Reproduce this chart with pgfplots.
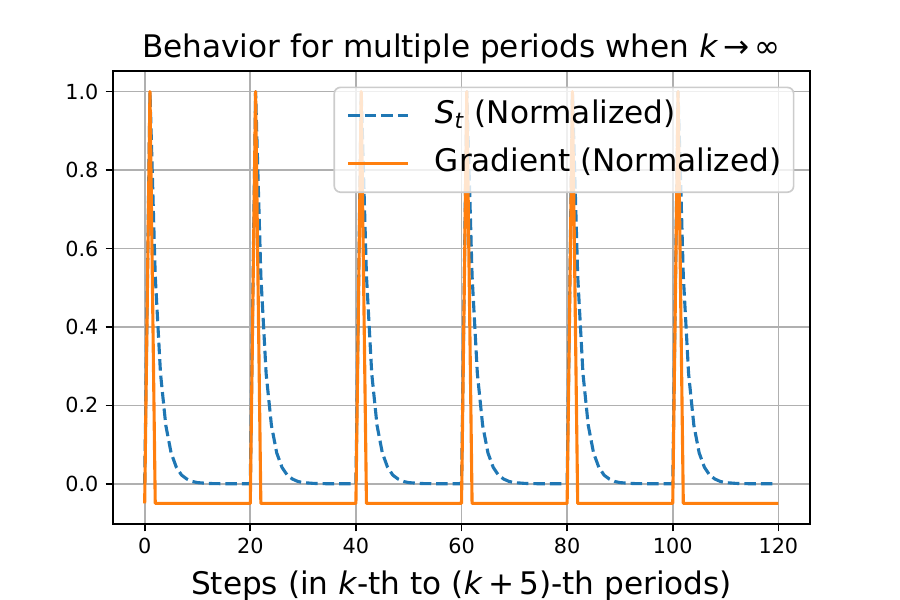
\documentclass[border=0pt]{standalone}
\usepackage{fontspec}
\setmainfont{DejaVu Sans}
\usepackage{pgfplots}
\pgfplotsset{compat=1.18}
\definecolor{mplblue}{HTML}{1F77B4}
\definecolor{mplorange}{HTML}{FF7F0E}
\definecolor{gridgray}{HTML}{B0B0B0}
\definecolor{legedge}{HTML}{CCCCCC}
\begin{document}
\begin{tikzpicture}
\useasboundingbox (-0.7533in,-0.5067in) rectangle (5.2467in,3.4933in);
\begin{axis}[
  at={(0,0)}, anchor=south west,
  scale only axis,
  width=4.647in, height=3.02in,
  xmin=-6, xmax=126, ymin=-0.1025, ymax=1.0525,
  xtick={0,20,40,60,80,100,120},
  ytick={0,0.2,0.4,0.6,0.8,1.0},
  yticklabel style={/pgf/number format/.cd, fixed, fixed zerofill, precision=1},
  /pgf/number format/assume math mode=true,
  tick label style={font=\fontsize{10}{12}\selectfont},
  tick align=outside, xtick pos=bottom, ytick pos=left,
  major tick length=3.5pt,
  every tick/.style={black, line width=0.8pt},
  axis line style={line width=0.8pt},
  grid=major,
  major grid style={gridgray, line width=0.8pt},
  title={Behavior for multiple periods when \textit{k}\,→\,∞},
  title style={font=\fontsize{15}{18}\selectfont, yshift=-6pt},
  xlabel={Steps (in \textit{k}-th to (\textit{k}\,+\,5)-th periods)},
  xlabel style={font=\fontsize{15}{18}\selectfont, yshift=-1pt},
  legend cell align=left,
  legend image code/.code={\draw[#1] (0pt,0pt) -- (29pt,0pt);},
  legend style={at={(1,1)}, anchor=north east, xshift=-7.5pt, yshift=-7.5pt,
    draw=legedge, line width=0.8pt, fill=white, fill opacity=0.8, text opacity=1, rounded corners=3pt,
    font=\fontsize{15}{18}\selectfont,
    nodes={inner sep=0pt, text height=11pt, text depth=3.5pt},
    row sep=8.5pt, inner xsep=6pt, inner ysep=6.5pt,
    /tikz/every odd column/.append style={column sep=12pt}},
]
\addplot[mplblue, line width=1.5pt, dash pattern=on 5.55pt off 2.4pt, line join=round] coordinates {
(0,0)
(1,1)(2,0.53)(3,0.281)(4,0.149)(5,0.079)(6,0.042)(7,0.022)(8,0.012)(9,0.006)(10,0.003)
(11,0.002)(12,0.001)(13,0.0005)(14,0.0003)(15,0.0001)(16,0)(17,0)(18,0)(19,0)(20,0)
(21,1)(22,0.53)(23,0.281)(24,0.149)(25,0.079)(26,0.042)(27,0.022)(28,0.012)(29,0.006)(30,0.003)
(31,0.002)(32,0.001)(33,0.0005)(34,0.0003)(35,0.0001)(36,0)(37,0)(38,0)(39,0)(40,0)
(41,1)(42,0.53)(43,0.281)(44,0.149)(45,0.079)(46,0.042)(47,0.022)(48,0.012)(49,0.006)(50,0.003)
(51,0.002)(52,0.001)(53,0.0005)(54,0.0003)(55,0.0001)(56,0)(57,0)(58,0)(59,0)(60,0)
(61,1)(62,0.53)(63,0.281)(64,0.149)(65,0.079)(66,0.042)(67,0.022)(68,0.012)(69,0.006)(70,0.003)
(71,0.002)(72,0.001)(73,0.0005)(74,0.0003)(75,0.0001)(76,0)(77,0)(78,0)(79,0)(80,0)
(81,1)(82,0.53)(83,0.281)(84,0.149)(85,0.079)(86,0.042)(87,0.022)(88,0.012)(89,0.006)(90,0.003)
(91,0.002)(92,0.001)(93,0.0005)(94,0.0003)(95,0.0001)(96,0)(97,0)(98,0)(99,0)(100,0)
(101,1)(102,0.53)(103,0.281)(104,0.149)(105,0.079)(106,0.042)(107,0.022)(108,0.012)(109,0.006)(110,0.003)
(111,0.002)(112,0.001)(113,0.0005)(114,0.0003)(115,0.0001)(116,0)(117,0)(118,0)(119,0)
};
\addlegendentry{\textit{S}\textsubscript{\textit{t}} (Normalized)}
\addplot[mplorange, line width=1.5pt, line join=round] coordinates {
(0,-0.05)(1,1)(2,-0.05)(20,-0.05)(21,1)(22,-0.05)(40,-0.05)(41,1)(42,-0.05)
(60,-0.05)(61,1)(62,-0.05)(80,-0.05)(81,1)(82,-0.05)(100,-0.05)(101,1)(102,-0.05)(120,-0.05)
};
\addlegendentry{Gradient (Normalized)}
\end{axis}
\end{tikzpicture}
\end{document}
